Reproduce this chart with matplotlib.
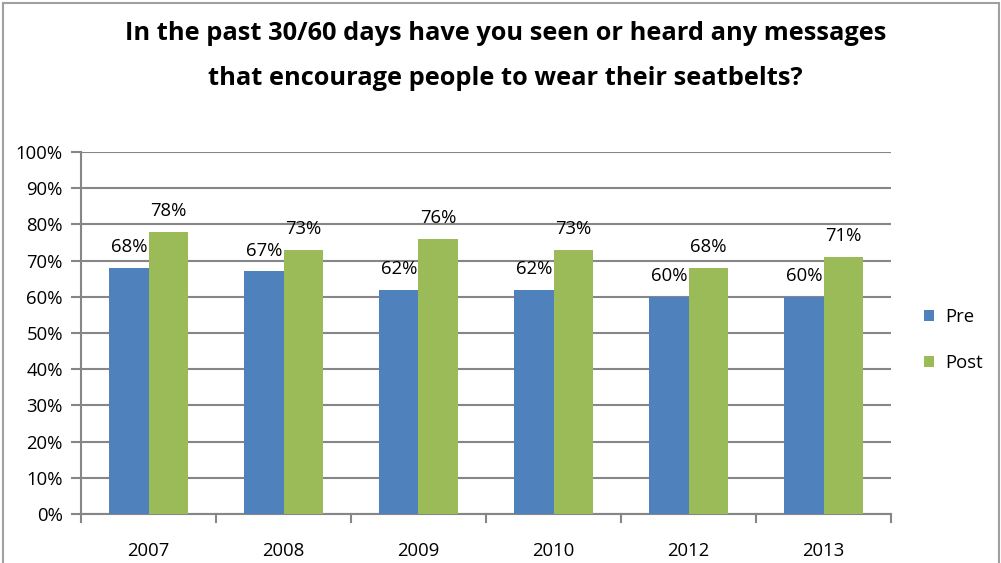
import numpy as np
import matplotlib.pyplot as plt
from matplotlib.patches import Rectangle

# Survey results: share who saw/heard seatbelt messages
years = ['2007', '2008', '2009', '2010', '2012', '2013']
pre = [68, 67, 62, 62, 60, 60]
post = [78, 73, 76, 73, 68, 71]

blue = '#4f81bd'
green = '#9bbb59'
grid_col = '#868686'

plt.rcParams['font.family'] = ['Open Sans', 'DejaVu Sans']

fig = plt.figure(figsize=(10.01, 5.63), dpi=100)
ax = fig.add_axes([81 / 1001, 1 - 514 / 563, 810 / 1001, 362 / 563])

x = np.arange(len(years))
w = 0.289
b1 = ax.bar(x - w / 2, pre, w, color=blue, label='Pre', zorder=3)
b2 = ax.bar(x + w / 2, post, w, color=green, label='Post', zorder=3)

for bars, vals in ((b1, pre), (b2, post)):
    for r, v in zip(bars, vals):
        ax.text(r.get_x() + r.get_width() / 2, v + 3.3, f'{v}%', ha='center', va='bottom',
                fontsize=13.3, color='black', zorder=4)

ax.set_xlim(-0.5, len(years) - 0.5)
ax.set_ylim(0, 100)
ax.set_yticks(range(0, 101, 10))
ax.set_yticklabels([f'{t}%' for t in range(0, 101, 10)], fontsize=13.3)
ax.set_xticks(x)
ax.set_xticklabels(years, fontsize=13.3)
ax.tick_params(axis='x', length=0, pad=20)
ax.tick_params(axis='y', length=7, width=1.5, color=grid_col, pad=6)
# category separator ticks below the axis
for b in np.arange(-0.5, len(years), 1.0):
    ax.plot([b, b], [0, -2.2], color=grid_col, lw=1.5, clip_on=False, zorder=2)

ax.yaxis.grid(True, color=grid_col, lw=1.5, zorder=0)
for s in ('top', 'right'):
    ax.spines[s].set_visible(False)
for s in ('left', 'bottom'):
    ax.spines[s].set_color(grid_col)
    ax.spines[s].set_linewidth(1.5)

leg = ax.legend(loc='center left', bbox_to_anchor=(1.02, 0.48), frameon=False,
                fontsize=13.3, handlelength=0.55, handleheight=0.55, labelspacing=1.5,
                handletextpad=0.6)

fig.text(0.505, 0.94, 'In the past 30/60 days have you seen or heard any messages',
         ha='center', va='center', fontsize=18.3, fontweight='bold')
fig.text(0.505, 0.86, 'that encourage people to wear their seatbelts?',
         ha='center', va='center', fontsize=18.3, fontweight='bold')

fig.patches.append(Rectangle((3 / 1001, -0.01), 996 / 1001, 1 - 3 / 563 + 0.01,
                             transform=fig.transFigure, fill=False,
                             edgecolor='#a0a0a0', lw=1.5))

fig.savefig('out.png', dpi=100)
